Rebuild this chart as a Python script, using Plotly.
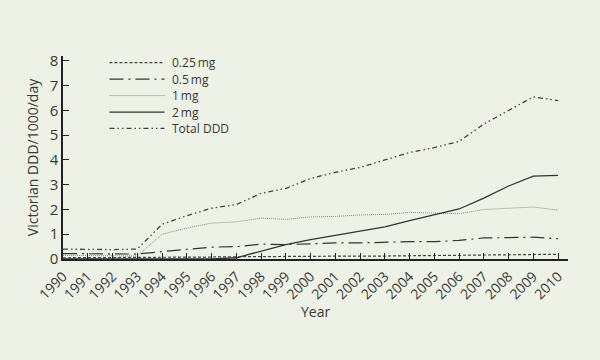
import plotly.graph_objects as go

years = list(range(1990, 2011))
year_labels = [str(y) for y in years]

mg025 = [0.05, 0.05, 0.05, 0.05, 0.08, 0.08, 0.08, 0.09, 0.10, 0.10, 0.10,
         0.12, 0.12, 0.12, 0.13, 0.13, 0.15, 0.18, 0.18, 0.19, 0.19]
mg05 = [0.22, 0.22, 0.22, 0.20, 0.30, 0.40, 0.48, 0.50, 0.60, 0.58, 0.62,
        0.65, 0.65, 0.68, 0.70, 0.70, 0.75, 0.85, 0.85, 0.88, 0.82]
mg1 = [0.15, 0.15, 0.15, 0.12, 1.00, 1.25, 1.45, 1.50, 1.65, 1.60, 1.70,
       1.72, 1.78, 1.80, 1.88, 1.85, 1.83, 2.00, 2.05, 2.10, 1.97]
mg2 = [0.0, 0.0, 0.0, 0.0, 0.0, 0.0, 0.0, 0.05, 0.30, 0.58, 0.78,
       0.95, 1.10, 1.30, 1.55, 1.80, 2.02, 2.46, 2.95, 3.35, 3.38]
total = [0.40, 0.38, 0.38, 0.40, 1.40, 1.75, 2.05, 2.20, 2.65, 2.85, 3.25,
         3.50, 3.70, 4.00, 4.30, 4.50, 4.75, 5.45, 6.00, 6.55, 6.40]

series_names = ["0.25\u2009mg", "0.5\u2009mg", "1\u2009mg", "2\u2009mg", "Total DDD"]
series_vals = [mg025, mg05, mg1, mg2, total]
styles = [
    dict(color="#444444", width=1.2, dash="3px,2px"),
    dict(color="#333333", width=1.2, dash="14px,5px,2px,5px"),
    dict(color="#8a8a8a", width=1.0, dash="1px,1px"),
    dict(color="#333333", width=1.3, dash="solid"),
    dict(color="#444444", width=1.3, dash="5px,3px,1.5px,3px,1.5px,3px"),
]

FONT = "'Open Sans', Lato, 'DejaVu Sans', sans-serif"
TXT = "#383838"
BG = "#eef2e6"

fig = go.Figure()
for name, vals, st in zip(series_names, series_vals, styles):
    fig.add_trace(go.Scatter(x=years, y=vals, mode="lines", name=name,
                             line=st, showlegend=False))

# custom legend (paper coords)
leg_y0 = 0.967
leg_dy = 0.081
for i, (name, st) in enumerate(zip(series_names, styles)):
    yy = leg_y0 - i * leg_dy
    fig.add_shape(type="line", xref="paper", yref="paper",
                  x0=0.092, x1=0.201, y0=yy, y1=yy, line=st)
    fig.add_annotation(x=0.213, y=yy, xref="paper", yref="paper",
                       text=name, showarrow=False, xanchor="left",
                       yanchor="middle", borderpad=0,
                       font=dict(size=12, color=TXT, family=FONT))

# x-axis title placed as annotation
fig.add_annotation(x=0.5, y=-0.26, xref="paper", yref="paper", text="Year",
                   showarrow=False, xanchor="center", yanchor="middle",
                   font=dict(size=14, color=TXT, family=FONT))

fig.update_layout(
    width=600, height=360,
    paper_bgcolor=BG, plot_bgcolor=BG,
    margin=dict(l=63, r=32, t=56, b=101),
    font=dict(family=FONT, color=TXT, size=13),
    showlegend=False,
)
fig.update_xaxes(
    range=[1990, 2010.4], tickmode="array", tickvals=years, ticktext=year_labels,
    tickangle=-45, ticks="inside", ticklen=6, tickcolor="#222222",
    showline=True, linecolor="#222222", linewidth=1.5, showgrid=False,
    zeroline=False, tickfont=dict(size=14, color=TXT), ticklabelstandoff=2,
    automargin=False,
)
fig.update_yaxes(
    range=[0, 8.2], tickmode="array", tickvals=list(range(0, 9)),
    ticks="inside", ticklen=6, tickcolor="#222222",
    showline=True, linecolor="#222222", linewidth=1.5, showgrid=False,
    zeroline=False, tickfont=dict(size=15, color=TXT),
    title=dict(text="Victorian DDD/1000/day", font=dict(size=14, color=TXT), standoff=8),
    automargin=False,
)
fig.write_html("out.html", config={"displayModeBar": False},
               post_script="document.body.style.margin='0';document.body.style.background='" + BG + "';")
